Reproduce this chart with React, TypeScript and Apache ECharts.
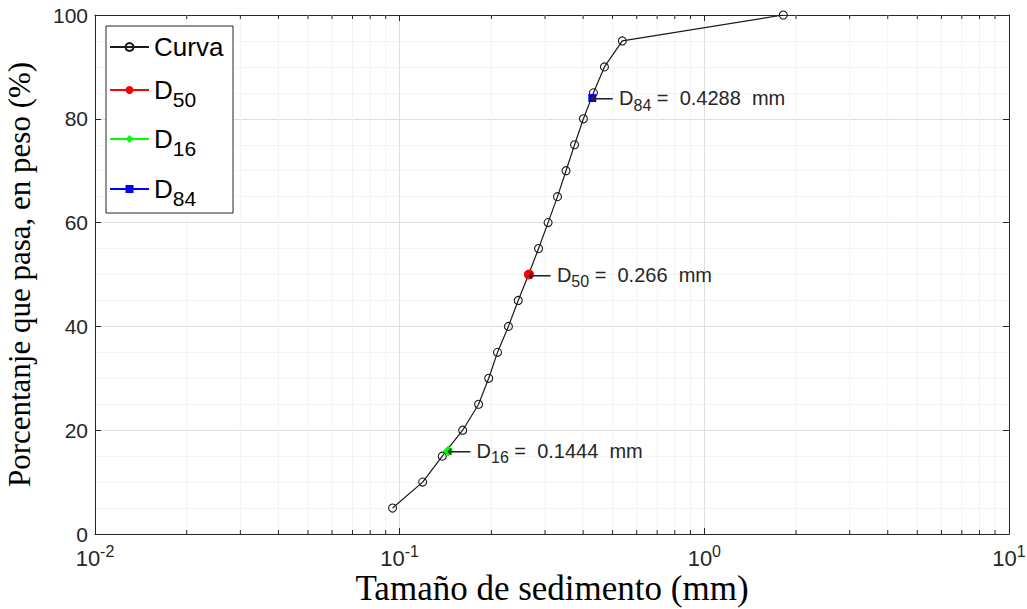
import React, { useEffect, useRef } from 'react';
import * as echarts from 'echarts';

// Grain-size curve (mm vs % passing)
const sizesMm = [0.0948, 0.119, 0.138, 0.161, 0.1816, 0.196, 0.2095, 0.2275, 0.245, 0.265, 0.2857, 0.307, 0.3296, 0.3516, 0.375, 0.401, 0.4325, 0.47, 0.538, 1.816];
const percentPassing = [5, 10, 15, 20, 25, 30, 35, 40, 45, 50, 55, 60, 65, 70, 75, 80, 85, 90, 95, 100];

const d50Point = [0.266, 50];
const d16Point = [0.1444, 16];
const d84Point = [0.4288, 84];

const legendNames = ['Curva', 'D50', 'D16', 'D84'];

const xMin = 0.01;
const xMax = 10;
const yTicks = [0, 20, 40, 60, 80, 100];
const decadeExponents = [-2, -1, 0];
const mantissas = [2, 3, 4, 5, 6, 7, 8, 9];

const AX = '#262626';
const SANS = 'Liberation Sans, Arial, Helvetica, sans-serif';
const SERIF = 'Liberation Serif, Times New Roman, serif';
const NB = '\u00a0';

const minorLogTicks: number[] = [];
decadeExponents.forEach((e) => mantissas.forEach((m) => minorLogTicks.push(m * Math.pow(10, e))));

const annRich = {
  ar: { fontSize: 17, fontFamily: 'DejaVu Sans', color: AX, lineHeight: 30 },
  d: { fontSize: 20, fontFamily: SANS, color: AX, lineHeight: 30 },
  s: { fontSize: 16, fontFamily: SANS, color: AX, verticalAlign: 'bottom' },
  r: { fontSize: 20, fontFamily: SANS, color: AX, lineHeight: 30 },
};

const annotation = (sub: string, value: number) =>
  `{ar|\u27F5${NB}}{d|D}{s|${sub}}{r|${NB}=${NB}${NB}${value}${NB}${NB}mm}`;

const legendRich = {
  c: { fontSize: 26, fontFamily: SANS, color: '#000', lineHeight: 34 },
  n: { fontSize: 26, fontFamily: SANS, color: '#000', lineHeight: 40 },
  s: { fontSize: 21, fontFamily: SANS, color: '#000', verticalAlign: 'bottom' },
};

// legend box layout (pixels)
const LEG_LEFT = 106;
const LEG_TOP = 26;
const LEG_W = 127;
const LEG_H = 187;
const legendCenters = [47, 89, 138, 188];

export default function App() {
  const ref = useRef<HTMLDivElement>(null);

  useEffect(() => {
    if (!ref.current) return;
    const chart = echarts.init(ref.current, undefined, { renderer: 'svg' });

    const curve = sizesMm.map((s, i) => [s, percentPassing[i]]);

    const labelFor = (sub: string, p: number[]) => ({
      show: true,
      position: 'right',
      distance: -7,
      formatter: annotation(sub, p[0]),
      rich: annRich,
    });

    const legends = legendNames.map((name, i) => {
      const off = name === 'Curva' ? 13 : 12;
      return {
        orient: 'vertical',
        left: LEG_LEFT + 3,
        top: legendCenters[i] - off,
        data: [name],
        padding: 0,
        itemWidth: 39,
        itemHeight: 10,
        selectedMode: false,
        z: 10,
        formatter: (n: string) => (n === 'Curva' ? '{c|Curva}' : `{n|D}{s|${n.slice(1)}}`),
        textStyle: { rich: legendRich },
      };
    });

    chart.setOption({
      animation: false,
      backgroundColor: '#ffffff',
      grid: { left: 95, right: 18, top: 15, bottom: 75, containLabel: false, outerBoundsMode: 'none' },
      legend: legends,
      graphic: [
        {
          type: 'rect',
          z: 9,
          shape: { x: LEG_LEFT, y: LEG_TOP, width: LEG_W, height: LEG_H },
          style: { fill: '#ffffff', stroke: AX, lineWidth: 1 },
          silent: true,
        },
      ],
      xAxis: [
        {
          type: 'log',
          logBase: 10,
          min: xMin,
          max: xMax,
          name: 'Tamaño de sedimento (mm)',
          nameLocation: 'middle',
          nameGap: 40,
          nameMoveOverlap: false,
          nameTextStyle: { fontFamily: SERIF, fontSize: 35, color: '#000', lineHeight: 28 },
          axisLine: { show: true, onZero: false, lineStyle: { color: AX, width: 1 } },
          axisTick: { show: true, inside: true, length: 6, lineStyle: { color: AX } },
          axisLabel: {
            margin: 9,
            formatter: (v: number) => `{b|10}{p|${Math.round(Math.log10(v))}}`,
            rich: {
              b: { fontSize: 22, fontFamily: SANS, color: AX, lineHeight: 26, verticalAlign: 'bottom' },
              p: { fontSize: 16, fontFamily: SANS, color: AX, verticalAlign: 'top' },
            },
          },
          splitLine: { show: true, lineStyle: { color: '#dedede', width: 1 } },
        },
        {
          type: 'log',
          logBase: 10,
          min: xMin,
          max: xMax,
          position: 'top',
          axisLine: { show: true, onZero: false, lineStyle: { color: AX, width: 1 } },
          axisTick: { show: true, inside: true, length: 6, lineStyle: { color: AX } },
          axisLabel: { show: false },
          splitLine: { show: false },
        },
      ],
      yAxis: [
        {
          type: 'value',
          min: 0,
          max: 100,
          interval: 20,
          name: 'Porcentanje que pasa, en peso (%)',
          nameLocation: 'middle',
          nameGap: 60,
          nameMoveOverlap: false,
          nameTextStyle: { fontFamily: SERIF, fontSize: 31, color: '#000' },
          axisLine: { show: true, lineStyle: { color: AX, width: 1 } },
          axisTick: { show: true, inside: true, length: 6, lineStyle: { color: AX } },
          axisLabel: {
            margin: 7,
            fontSize: 21,
            fontFamily: SANS,
            color: AX,
            formatter: (v: number) => (yTicks.includes(v) ? String(v) : ''),
          },
          splitLine: { show: true, lineStyle: { color: '#dedede', width: 1 } },
          minorTick: { show: false, splitNumber: 4 },
          minorSplitLine: { show: true, lineStyle: { color: '#f5f5f5', width: 1 } },
        },
        {
          type: 'value',
          min: 0,
          max: 100,
          interval: 20,
          position: 'right',
          axisLine: { show: true, lineStyle: { color: AX, width: 1 } },
          axisTick: { show: true, inside: true, length: 6, lineStyle: { color: AX } },
          axisLabel: { show: false },
          splitLine: { show: false },
        },
      ],
      series: [
        {
          name: 'minorLog',
          type: 'custom',
          xAxisIndex: 0,
          yAxisIndex: 0,
          silent: true,
          z: 1,
          data: minorLogTicks.map((v) => [v, 0]),
          renderItem: (_params: any, api: any) => {
            const v = api.value(0);
            const pb = api.coord([v, 0]);
            const pt = api.coord([v, 100]);
            return {
              type: 'group',
              children: [
                { type: 'line', shape: { x1: pb[0], y1: pb[1], x2: pt[0], y2: pt[1] }, style: { stroke: '#f3f3f3', lineWidth: 1 } },
                { type: 'line', shape: { x1: pb[0], y1: pb[1], x2: pb[0], y2: pb[1] - 4 }, style: { stroke: AX, lineWidth: 1 } },
                { type: 'line', shape: { x1: pt[0], y1: pt[1], x2: pt[0], y2: pt[1] + 4 }, style: { stroke: AX, lineWidth: 1 } },
              ],
            };
          },
        },
        {
          name: 'Curva',
          type: 'line',
          data: curve,
          z: 3,
          symbol: 'circle',
          symbolSize: 8,
          showAllSymbol: true,
          lineStyle: { color: '#1a1a1a', width: 1.2 },
          itemStyle: { color: 'rgba(255,255,255,0)', borderColor: '#1a1a1a', borderWidth: 1.1 },
          emphasis: { disabled: true },
        },
        {
          name: 'D50',
          type: 'line',
          data: [d50Point],
          z: 4,
          symbol: 'circle',
          symbolSize: 10,
          lineStyle: { color: '#ff0000', width: 1 },
          itemStyle: { color: '#ff0000' },
          emphasis: { disabled: true },
          label: labelFor('50', d50Point),
        },
        {
          name: 'D16',
          type: 'line',
          data: [d16Point],
          z: 4,
          symbol: 'diamond',
          symbolSize: 11,
          lineStyle: { color: '#00ff00', width: 1 },
          itemStyle: { color: '#00ff00' },
          emphasis: { disabled: true },
          label: labelFor('16', d16Point),
        },
        {
          name: 'D84',
          type: 'line',
          data: [d84Point],
          z: 4,
          symbol: 'rect',
          symbolSize: 8,
          lineStyle: { color: '#0000ff', width: 1 },
          itemStyle: { color: '#0000ff' },
          emphasis: { disabled: true },
          label: labelFor('84', d84Point),
        },
      ],
    });

    return () => chart.dispose();
  }, []);

  return (
    <div
      ref={ref}
      style={{ position: 'absolute', left: 0, top: 0, width: 1027, height: 609, background: '#fff' }}
    />
  );
}
